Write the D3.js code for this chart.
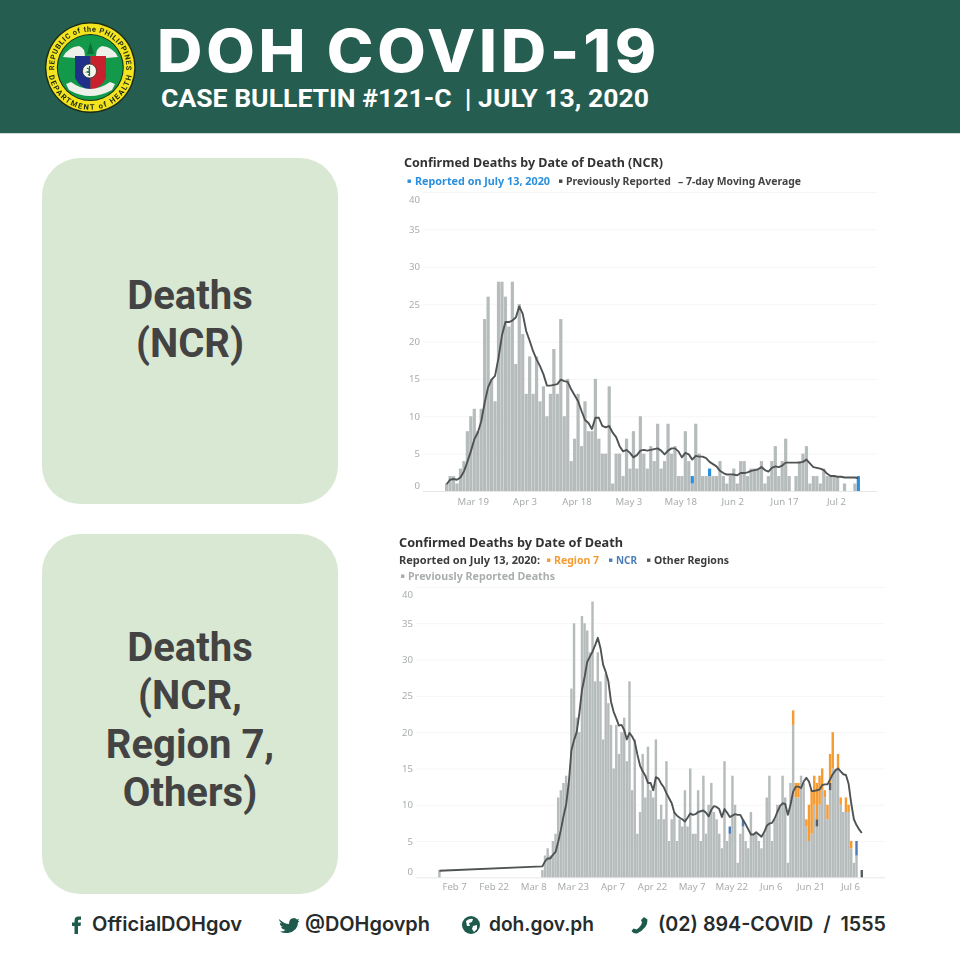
<!DOCTYPE html>
<html>
<head>
<meta charset="utf-8">
<script src="https://cdn.jsdelivr.net/npm/d3@7"></script>
<style>
html,body{margin:0;padding:0;background:#fff;}
svg{display:block;}
text{white-space:pre;}
.soft{filter:blur(0.4px);}
</style>
</head>
<body>
<svg id="page" width="960" height="960" xmlns="http://www.w3.org/2000/svg"></svg>
<script>
// ---------- DATA ----------
const headerTitle = "DOH COVID-19";
const headerSub = "CASE BULLETIN #121-C  | JULY 13, 2020";
const panelLinesTop = ["Deaths", "(NCR)"];
const panelLinesBottom = ["Deaths", "(NCR,", "Region 7,", "Others)"];
const yTicks = [0, 5, 10, 15, 20, 25, 30, 35, 40];

const ncrTickDates = ["2020-03-19","2020-04-03","2020-04-18","2020-05-03","2020-05-18","2020-06-02","2020-06-17","2020-07-02"];
const ncrPrevious = [
 1,2,2,1,3,4,8,10,11,8, 11,23,26,15,12,28,28,26,22,28,
 17,25,21,13,18,13,18,12,14,10, 13,19,13,23,10,15,4,7,13,6,
 12,8,8,15,7,5,5,14,1,5, 5,2,7,3,8,3,10,5,3,6,
 4,9,3,4,9,5,6,2,2,8, 4,1,9,5,2,2,2,2,2,4,
 2,1,2,3,1,4,4,2,3,3, 3,4,1,2,4,6,2,4,7,2,
 0,2,4,5,6,1,2,2,1,3, 2,2,2,2,0,1,0,0,1,0];
const ncrReported = [
 0,0,0,0,0,0,0,0,0,0, 0,0,0,0,0,0,0,0,0,0,
 0,0,0,0,0,0,0,0,0,0, 0,0,0,0,0,0,0,0,0,0,
 0,0,0,0,0,0,0,0,0,0, 0,0,0,0,0,0,0,0,0,0,
 0,0,0,0,0,0,0,0,0,0, 0,1,0,0,0,0,1,0,0,0,
 0,0,0,0,0,0,0,0,0,0, 0,0,0,0,0,0,0,0,0,0,
 0,0,0,0,0,0,0,0,0,0, 0,0,0,0,0,0,0,0,0,2];
const ncrAverage = [
 0.9,1.5,1.6,1.5,1.8,2.6,3.9,5.3,6.9,7.8, 9.3,11.8,13.9,14.9,15.4,17.8,20.8,22.6,22.6,22.8,
 23.2,24.7,23.7,21.4,20.1,18.7,17.6,16.7,15.6,14.1, 14.1,14.2,14.3,14.9,14.7,14.6,13.6,12.8,12.0,10.7,
 9.5,9.1,8.3,9.8,9.8,8.7,8.5,8.7,7.8,7.2, 6.0,5.3,5.5,5.1,4.5,4.8,5.4,5.5,5.4,5.5,
 5.6,5.7,5.4,4.9,5.4,5.7,5.7,5.3,4.5,5.1, 4.9,4.2,4.7,4.6,4.6,4.4,3.9,3.6,3.3,2.7,
 2.4,2.2,2.2,2.2,2.1,2.4,2.4,2.5,2.7,2.8, 2.9,3.2,2.8,2.6,3.1,3.3,3.2,3.4,3.8,3.8,
 3.8,3.8,3.8,3.9,4.2,3.7,3.2,3.1,3.0,2.8, 2.3,2.0,2.0,1.9,1.9,1.8,1.8,1.8,1.8,1.7];

const allTickDates = ["2020-02-07","2020-02-22","2020-03-08","2020-03-23","2020-04-07","2020-04-22","2020-05-07","2020-05-22","2020-06-06","2020-06-21","2020-07-06"];
// first entry of each "all" series is Feb 1; the rest run daily from Mar 11
const allPrevious = [1,
 1,3,4,3,5,6,11,12,13,14, 13,26,35,22,20,36,35,34,31,38,
 27,31,27,19,28,24,21,15,21,17, 20,22,16,27,12,19,6,9,17,11,
 18,12,11,19,8,10,8,16,5,8, 9,5,8,7,12,7,15,6,6,12,
 5,14,6,10,13,9,8,6,4,16, 5,6,14,10,2,6,7,5,4,9,
 6,6,5,4,6,11,14,5,8,10, 10,14,11,2,13,21,11,11,14,13,
 7,5,6,10,7,10,12,11,8,12, 15,15,15,10,9,9,9,4,2,3, 0,0];
const allRegion7 = [0,
 0,0,0,0,0,0,0,0,0,0, 0,0,0,0,0,0,0,0,0,0,
 0,0,0,0,0,0,0,0,0,0, 0,0,0,0,0,0,0,0,0,0,
 0,0,0,0,0,0,0,0,0,0, 0,0,0,0,0,0,0,0,0,0,
 0,0,0,0,0,0,0,0,0,0, 0,0,0,0,0,0,0,0,0,0,
 0,0,0,0,0,0,0,0,0,0, 0,0,0,0,0,2,2,2,0,0,
 1,5,6,4,5,4,3,1,2,4, 5,0,2,1,0,2,1,1,0,0, 0,0];
const allNcr = [0,
 0,0,0,0,0,0,0,0,0,0, 0,0,0,0,0,0,0,0,0,0,
 0,0,0,0,0,0,0,0,0,0, 0,0,0,0,0,0,0,0,0,0,
 0,0,0,0,0,0,0,0,0,0, 0,0,0,0,0,0,0,0,0,0,
 0,0,0,0,0,0,0,0,0,0, 0,1,0,0,0,0,1,0,0,0,
 0,0,0,0,0,0,0,0,0,0, 0,0,0,0,0,0,0,0,0,0,
 0,0,0,0,0,0,0,0,0,0, 0,0,0,0,0,0,0,0,0,2, 0,0];
const allOther = [0,
 0,0,0,0,0,0,0,0,0,0, 0,0,0,0,0,0,0,0,0,0,
 0,0,0,0,0,0,0,0,0,0, 0,0,0,0,0,0,0,0,0,0,
 0,0,0,0,0,0,0,0,0,0, 0,0,0,0,0,0,0,0,0,0,
 0,0,0,0,0,0,0,0,0,0, 0,0,0,0,0,0,0,0,0,0,
 0,0,0,0,0,0,0,0,0,0, 0,0,0,0,0,0,0,0,0,0,
 0,0,0,0,1,0,0,0,0,1, 0,0,0,0,0,0,0,0,0,0, 0,1];
const allAverage = [0.9,
 1.5,2.2,2.6,2.6,3.1,3.5,4.9,6.5,8.4,10, 13,17.5,18.9,20,22.6,25.8,27.6,29.7,30.4,31.1,
 32,33,31.6,29.3,28.3,27,24.2,22.8,21.9,20.9, 21,20.3,19,19.9,19.4,18.7,16.9,15.4,14.6,14,
 13,13,12,13.8,13.6,12.9,12.4,11.6,10.9,10.2, 8.9,8.5,8.2,8,7.7,8.2,8.8,8.6,8.7,9,
 9.1,9.2,8.9,8.4,9.3,9.8,9.7,9.4,8.3,9.4, 8.9,8.3,8.5,8.7,8.6,8.6,7.9,7.3,6.6,5.9,
 5.9,6.2,5.9,5.6,6.2,7.1,7.4,7.5,8.1,9, 9.8,10.2,10.1,8.6,10,11.8,12.5,12.5,12.3,13.2,
 13.7,13.2,11.9,11.9,12,12.1,12.7,12.8,12.8,13.5, 14.2,14.7,15,14.6,14.2,14.1,12.9,10.2,8,7.2, 6.6,6.1];
const footerItems = ["OfficialDOHgov", "@DOHgovph", "doh.gov.ph", "(02) 894-COVID  /  1555"];

// ---------- HELPERS ----------
const svg = d3.select("#page");
const parse = d3.utcParse("%Y-%m-%d");
const fmt = d3.utcFormat("%b %-d");
const CHART_FONT = "'Noto Sans', 'Open Sans', sans-serif";
const GRAY = "#b6bbbb", LINE = "#505353";

function label(g, str, x, y, size, weight, fill, family, len, adjust) {
  const t = g.append("text").attr("x", x).attr("y", y).attr("font-size", size)
    .attr("font-weight", weight).attr("fill", fill).attr("font-family", family).text(str);
  if (len) t.attr("textLength", len).attr("lengthAdjust", adjust || "spacingAndGlyphs");
  return t;
}
function square(g, x, y, fill) {
  g.append("rect").attr("x", x).attr("y", y).attr("width", 3.4).attr("height", 3.4).attr("fill", fill);
}

function drawChart(cfg) {
  const g = svg.append("g").attr("class", "soft");
  const x = d3.scaleUtc().domain(cfg.domain).range(cfg.xRange);
  const y = d3.scaleLinear().domain([0, 40]).range(cfg.yRange);

  const yAxis = d3.axisLeft(y).tickValues(yTicks).tickSize(-(cfg.gridEnd - cfg.gridStart)).tickPadding(3);
  const ya = g.append("g").attr("transform", `translate(${cfg.gridStart},0)`).call(yAxis);
  ya.select(".domain").remove();
  ya.selectAll("line").attr("stroke", d => d === 0 ? "#e6e8e8" : "#f6f6f6").attr("stroke-width", 1);
  ya.selectAll("text").attr("fill", "#a9adad").attr("font-size", 9.6).attr("font-family", CHART_FONT)
    .attr("transform", d => d === 0 ? "translate(0,-6)" : d === 40 ? "translate(0,7)" : null);

  const xAxis = d3.axisBottom(x).tickValues(cfg.ticks.map(parse)).tickFormat(fmt).tickSize(0).tickPadding(cfg.xPad);
  const xa = g.append("g").attr("transform", `translate(0,${cfg.yRange[0]})`).call(xAxis);
  xa.select(".domain").remove();
  xa.selectAll("text").attr("fill", "#a9adad").attr("font-size", 9.6).attr("font-family", CHART_FONT);

  const rows = cfg.dates.map((d, i) => {
    const row = { date: d };
    cfg.series.forEach(s => { row[s.key] = s.values[i]; });
    return row;
  });
  const stacked = d3.stack().keys(cfg.series.map(s => s.key))(rows);
  const dayW = x(d3.utcDay.offset(cfg.dates[0], 1)) - x(cfg.dates[0]);
  stacked.forEach((layer, k) => {
    g.append("g").attr("fill", cfg.series[k].color).selectAll("rect")
      .data(layer.filter(p => p[1] > p[0])).join("rect")
      .attr("x", p => x(p.data.date))
      .attr("width", dayW - cfg.gap)
      .attr("y", p => y(p[1]))
      .attr("height", p => y(p[0]) - y(p[1]));
  });

  const line = d3.line()
    .x((d, i) => x(cfg.dates[i]) + (dayW - cfg.gap) / 2)
    .y(d => y(d));
  g.append("path").attr("d", line(cfg.average)).attr("fill", "none")
    .attr("stroke", LINE).attr("stroke-width", 1.9).attr("stroke-linejoin", "round");
  return g;
}

// ---------- HEADER ----------
svg.append("rect").attr("width", 960).attr("height", 133).attr("fill", "#255e50");
svg.append("rect").attr("y", 133).attr("width", 960).attr("height", 1).attr("fill", "#cfd8d5");
label(svg, headerTitle, 157, 71.5, 59, 800, "#fff", "Inter, Roboto, sans-serif", 503).attr("letter-spacing", 3.5);
label(svg, headerSub, 161, 107, 26.5, 700, "#fff", "Roboto, sans-serif", 488);

// ---------- LOGO (seal) ----------
(function () {
  const cx = 90.3, cy = 67.6;
  const g = svg.append("g").attr("class", "soft");
  const defs = svg.append("defs");
  const R = 36;
  defs.append("path").attr("id", "sealTop").attr("d",
    `M ${cx - R * 0.94} ${cy + R * 0.34} A ${R} ${R} 0 1 1 ${cx + R * 0.94} ${cy + R * 0.34}`);
  const Rb = 42.2;
  defs.append("path").attr("id", "sealBot").attr("d",
    `M ${cx - Rb} ${cy} A ${Rb} ${Rb} 0 0 0 ${cx + Rb} ${cy}`);
  g.append("circle").attr("cx", cx).attr("cy", cy).attr("r", 45.3).attr("fill", "#1c2a12");
  g.append("circle").attr("cx", cx).attr("cy", cy).attr("r", 44).attr("fill", "#f3e41f");
  g.append("circle").attr("cx", cx).attr("cy", cy).attr("r", 33.5).attr("fill", "#1c2a12");
  g.append("circle").attr("cx", cx).attr("cy", cy).attr("r", 32.5).attr("fill", "#12994a");
  const tp = (id, s, size, len) => g.append("text").attr("font-family", "Roboto, sans-serif").attr("font-weight", 700)
    .attr("font-size", size).attr("fill", "#1c2a12")
    .append("textPath").attr("href", "#" + id).attr("startOffset", "50%").attr("text-anchor", "middle")
    .attr("textLength", len).text(s);
  tp("sealTop", "REPUBLIC of the PHILIPPINES", 7.4, 118);
  tp("sealBot", "DEPARTMENT of HEALTH", 7.6, 116);
  // wings
  g.append("path").attr("fill", "#eef0ea").attr("d", "M63 57 Q68 47 79 46 Q85 48 85 56 L75 58 Z");
  g.append("path").attr("fill", "#eef0ea").attr("d", "M118 57 Q113 47 102 46 Q96 48 96 56 L106 58 Z");
  g.append("path").attr("fill", "#0c7036").attr("d", "M90.5 42 L94 54 L87 54 Z");
  // shield
  g.append("path").attr("fill", "#1f2f8a").attr("d", "M75 56 H90.5 V90 Q80 88 75 78 Z");
  g.append("path").attr("fill", "#c8202d").attr("d", "M90.5 56 H106 V78 Q101 88 90.5 90 Z");
  g.append("circle").attr("cx", 89.5).attr("cy", 71).attr("r", 7).attr("fill", "#f5f5f0").attr("stroke", "#1c2a12").attr("stroke-width", 0.7);
  g.append("path").attr("fill", "none").attr("stroke", "#1f6b3a").attr("stroke-width", 1.2).attr("d", "M89.5 66 V76 M86.8 68 Q92 70 87 72 Q92 73 88 75");
  // ribbon
  g.append("path").attr("fill", "#eef0ea").attr("d", "M66 84 L71 82 Q90 96 110 82 L115 84 L112 90 Q90 102 69 90 Z");
})();

// ---------- LEFT PANELS ----------
[[158, 346, panelLinesTop, [309, 357]], [534, 360, panelLinesBottom, [661, 709, 758, 806]]].forEach(([top, h, lines, ys]) => {
  svg.append("rect").attr("x", 42).attr("y", top).attr("width", 296).attr("height", h).attr("rx", 38).attr("fill", "#d9e8d3");
  lines.forEach((s, i) => {
    label(svg, s, 190, ys[i], 40, 700, "#434343", "Roboto, sans-serif").attr("text-anchor", "middle");
  });
});

// ---------- CHART 1 ----------
const ncrStart = parse("2020-03-11");
const ncrDates = ncrPrevious.map((_, i) => d3.utcDay.offset(ncrStart, i));
const c1 = drawChart({
  dates: ncrDates,
  domain: [ncrStart, d3.utcDay.offset(ncrStart, ncrPrevious.length)],
  xRange: [445, 860.2],
  yRange: [491, 192],
  gridStart: 423, gridEnd: 877,
  ticks: ncrTickDates, xPad: 7, gap: 0.25,
  series: [
    { key: "prev", values: ncrPrevious, color: GRAY },
    { key: "new", values: ncrReported, color: "#2a8fdc" }
  ],
  average: ncrAverage
});
label(c1, "Confirmed Deaths by Date of Death (NCR)", 404, 167, 12.4, 700, "#333", CHART_FONT, 259);
square(c1, 407.5, 179.5, "#2a8fdc");
label(c1, "Reported on July 13, 2020", 415, 185, 10.6, 700, "#2a8fdc", CHART_FONT, 135);
square(c1, 559, 179.5, "#444");
label(c1, "Previously Reported", 566, 185, 10.6, 700, "#444", CHART_FONT, 105);
label(c1, "– 7-day Moving Average", 678, 185, 10.6, 700, "#444", CHART_FONT, 123);

// ---------- CHART 2 ----------
const allStart = parse("2020-02-01");
const allSecond = parse("2020-03-11");
const allDates = allPrevious.map((_, i) => i === 0 ? allStart : d3.utcDay.offset(allSecond, i - 1));
const c2 = drawChart({
  dates: allDates,
  domain: [allStart, parse("2020-07-11")],
  xRange: [438.2, 863.2],
  yRange: [877.3, 587],
  gridStart: 416, gridEnd: 885,
  ticks: allTickDates, xPad: 6, gap: 0.2,
  series: [
    { key: "prev", values: allPrevious, color: GRAY },
    { key: "other", values: allOther, color: "#5a5d5f" },
    { key: "ncr", values: allNcr, color: "#4a7db8" },
    { key: "r7", values: allRegion7, color: "#f59b32" }
  ],
  average: allAverage
});
label(c2, "Confirmed Deaths by Date of Death", 399, 547, 12.6, 700, "#333", CHART_FONT, 224);
label(c2, "Reported on July 13, 2020:", 399, 564, 10.8, 700, "#3c3c3c", CHART_FONT, 141);
square(c2, 547, 558.5, "#f59b32");
label(c2, "Region 7", 554, 564, 10.8, 700, "#f59b32", CHART_FONT, 45);
square(c2, 609, 558.5, "#4a7db8");
label(c2, "NCR", 616, 564, 10.8, 700, "#4a7db8", CHART_FONT, 21);
square(c2, 647, 558.5, "#555");
label(c2, "Other Regions", 654, 564, 10.8, 700, "#3c3c3c", CHART_FONT, 75);
square(c2, 401, 574.5, "#aaa");
label(c2, "Previously Reported Deaths", 408, 580, 10.8, 700, "#aaaeae", CHART_FONT, 147);

// ---------- FOOTER ----------
const ICON = "#1e5b4c", FOOT = "#262b2b";
const footX = [92, 305, 489, 658], footW = [150, 125, 105, 228];
footerItems.forEach((s, i) => label(svg, s, footX[i], 931, 20, 600, FOOT, "Inter, Lato, sans-serif", footW[i]));
// facebook f
svg.append("path").attr("fill", ICON).attr("d", "M74.5 934 V926 H72 V922.6 H74.5 V920.6 Q74.5 916.6 78.6 916.6 H81 V919.8 H79.4 Q78 919.8 78 921 V922.6 H81 L80.5 926 H78 V934 Z");
// bird
svg.append("path").attr("fill", ICON).attr("d", "M279 919 Q284 924 289 924 Q289 918 294 918 Q296 918 297 919.5 L299 919 L298 921 L299.5 921 L298 922.5 Q298 931 288 933 Q283 933.5 280 931.5 Q283.5 931.5 285.5 930 Q282 929.5 281 927 H283 Q280 926 279.8 923 L281.6 923.6 Q279 921.5 279 919 Z");
// globe
svg.append("circle").attr("cx", 471).attr("cy", 925).attr("r", 9).attr("fill", ICON);
svg.append("path").attr("fill", "#fff").attr("d", "M466 921 Q470 918 473 919 L472 922 L469 923 L470 926 L467 926 Z M473 926 L477 925 L477 929 L474 932 L472 929 Z");
// phone
svg.append("path").attr("fill", ICON).attr("d", "M644 917 L647.5 919.5 Q648 928 637 933.5 Q633.5 934 631.5 931 L633.5 928.5 L636.5 929.5 Q641 926.5 642 922.5 L641 920 Z");
</script>
</body>
</html>
